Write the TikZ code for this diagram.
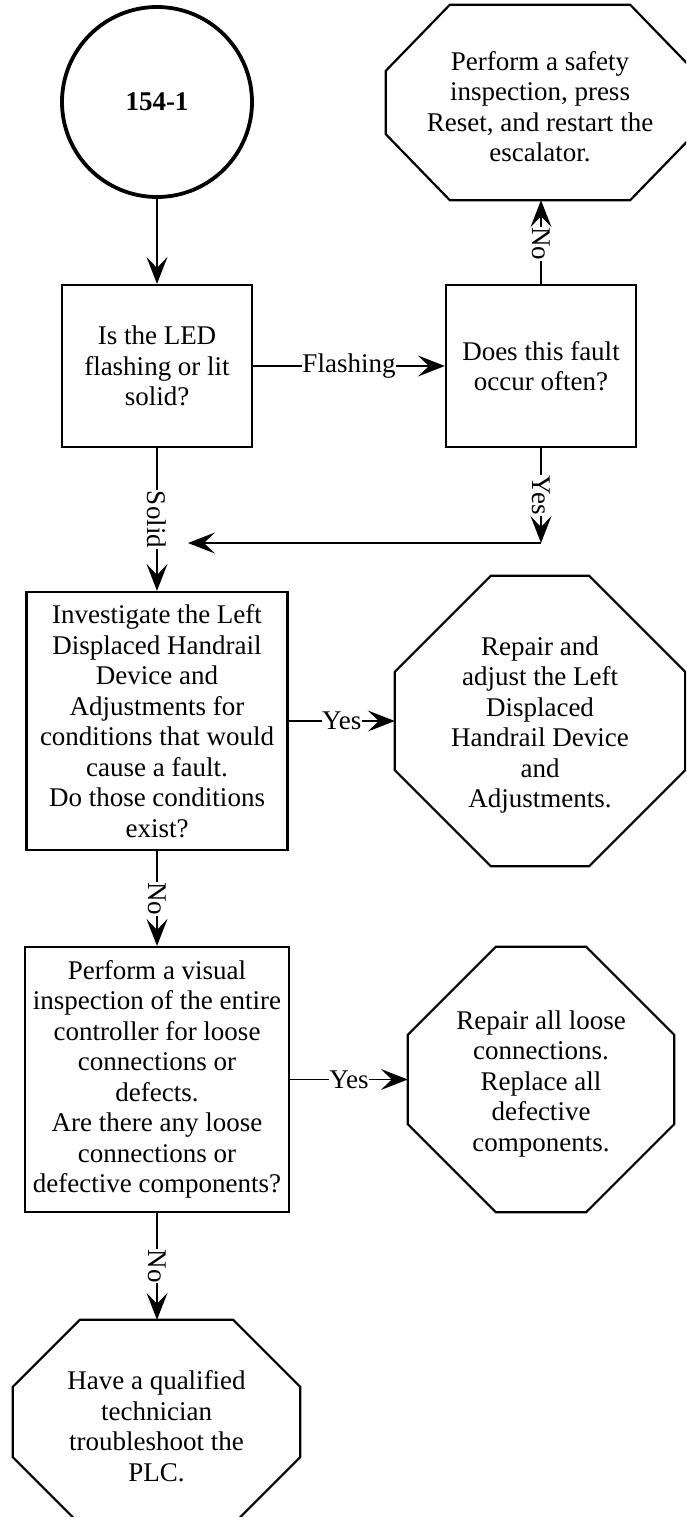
\documentclass[tikz,border=0pt]{standalone}
\usepackage{fontspec}
\setmainfont{Liberation Serif}
\usetikzlibrary{arrows.meta,calc}

\tikzset{
  every node/.style={font=\fontsize{27}{30.5}\selectfont},
  stepbox/.style={draw, line width=2.2pt, align=center, inner sep=0pt},
  startcircle/.style={draw, circle, line width=3.8pt, minimum size=190pt,
    inner sep=0pt, font=\fontsize{27}{30.5}\selectfont\bfseries},
  octbox/.style={align=center, inner sep=0pt},
  octline/.style={line width=2.2pt, line join=miter},
  flow/.style={line width=1.9pt, -{Stealth[length=27pt,width=21pt,inset=11pt]}},
  lbl/.style={fill=white, inner sep=0.5pt},
  vlbl/.style={lbl, rotate=-90}
}

% octagon: name, centre, width, height, chamfer x, chamfer y, text
\newcommand\octagonnode[7]{%
  \node[octbox, minimum width=#3pt, minimum height=#4pt] (#1) at (#2) {};
  \node[octbox] at ($(#1.center)+(0,4)$) {#7};
  \draw[octline]
    ($(#1.north west)+(#5,0)$) -- ($(#1.north east)+(-#5,0)$) --
    ($(#1.north east)+(0,#6)$) -- ($(#1.south east)+(0,-#6)$) --
    ($(#1.south east)+(-#5,0)$) -- ($(#1.south west)+(#5,0)$) --
    ($(#1.south west)+(0,-#6)$) -- ($(#1.north west)+(0,#6)$) -- cycle;
}

\begin{document}
\begin{tikzpicture}[x=1pt, y=-1pt]
  \useasboundingbox (0,0) rectangle (686,1517);
  \clip (0,0) rectangle (686,1517);

  % start point
  \node[startcircle] (start) at (157,102) {154-1};

  % decisions and actions
  \node[stepbox, minimum width=190pt, minimum height=162pt] (q1) at (157,366)
    {Is the LED\\flashing or lit\\solid?};
  \node[stepbox, minimum width=190pt, minimum height=162pt] (q2) at (541,366)
    {Does this fault\\occur often?};
  \node[stepbox, minimum width=261pt, minimum height=258pt] (q3) at (157,721)
    {Investigate the Left\\Displaced Handrail\\Device and\\Adjustments for\\conditions that would\\cause a fault.\\Do those conditions\\exist?};
  \node[stepbox, minimum width=264pt, minimum height=265pt] (q4) at (157,1079.5)
    {Perform a visual\\inspection of the entire\\controller for loose\\connections or\\defects.\\Are there any loose\\connections or\\defective components?};

  \octagonnode{a1}{540,102.5}{308}{195}{64}{66}
    {Perform a safety\\inspection, press\\Reset, and restart the\\escalator.}
  \octagonnode{a2}{540,721}{290}{290}{96}{96}
    {Repair and\\adjust the Left\\Displaced\\Handrail Device\\and\\Adjustments.}
  \octagonnode{a3}{541,1079.5}{266}{265}{88}{88}
    {Repair all loose\\connections.\\Replace all\\defective\\components.}
  \octagonnode{a4}{156.5,1422}{287}{204}{67}{67}
    {Have a qualified\\technician\\troubleshoot the\\PLC.}

  % connectors
  \coordinate (yj) at (541,543);
  \coordinate (yl) at (188,543);

  \draw[flow] (start.south) -- (q1.north);
  \draw[flow] (q1.east) -- node[lbl]{Flashing} (q2.west);
  \draw[flow] (q2.north) -- node[vlbl, pos=0.48]{No} (q2.north |- a1.south);
  \draw[flow] (q2.south) -- node[vlbl]{Yes} (yj);
  \draw[flow] (yj) -- (yl);
  \draw[flow] (q1.south) -- node[vlbl]{Solid} (q1.south |- q3.north);
  \draw[flow] (q3.east) -- node[lbl]{Yes} (q3.east -| a2.west);
  \draw[flow] (q3.south) -- node[vlbl]{No} (q4.north);
  \draw[flow] (q4.east) -- node[lbl]{Yes} (q4.east -| a3.west);
  \draw[flow] (q4.south) -- node[vlbl]{No} (q4.south |- a4.north);
\end{tikzpicture}
\end{document}
